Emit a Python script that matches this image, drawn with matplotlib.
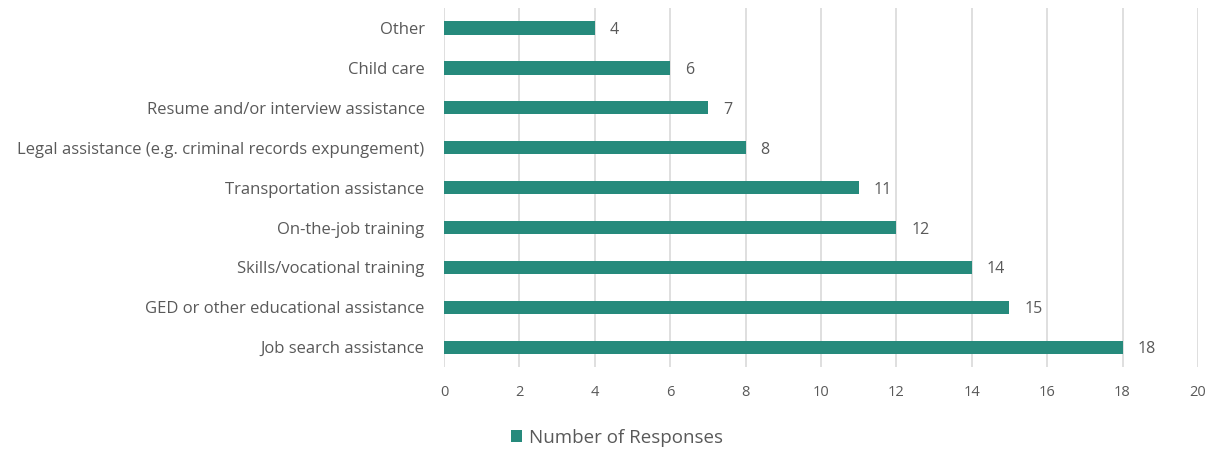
import matplotlib.pyplot as plt

categories = [
    "Job search assistance",
    "GED or other educational assistance",
    "Skills/vocational training",
    "On-the-job training",
    "Transportation assistance",
    "Legal assistance (e.g. criminal records expungement)",
    "Resume and/or interview assistance",
    "Child care",
    "Other",
]
responses = [18, 15, 14, 12, 11, 8, 7, 6, 4]
x_ticks = [0, 2, 4, 6, 8, 10, 12, 14, 16, 18, 20]

BAR_COLOR = "#268a7c"
TEXT_COLOR = "#595959"
GRID_COLOR = "#d9d9d9"

plt.rcParams["font.family"] = ["Open Sans", "DejaVu Sans"]

fig = plt.figure(figsize=(12.18, 4.5), dpi=100)
ax = fig.add_axes([0.3645, 0.184, 0.619, 0.798])

ypos = list(range(len(categories)))
bars = ax.barh(ypos, responses, height=0.33, color=BAR_COLOR,
               label="Number of Responses", zorder=3)

for y, v in zip(ypos, responses):
    ax.text(v + 0.4, y - 0.05, str(v), va="center", ha="left",
            fontsize=11.5, color=TEXT_COLOR)

ax.set_xlim(0, 20)
ax.set_ylim(-0.5, len(categories) - 0.5)
ax.set_xticks(x_ticks)
ax.set_xticklabels([str(t) for t in x_ticks], fontsize=10.5, color=TEXT_COLOR)
ax.set_yticks(ypos)
ax.set_yticklabels(categories, fontsize=12, color=TEXT_COLOR)
ax.tick_params(axis="both", length=0)
ax.tick_params(axis="x", pad=13)
ax.tick_params(axis="y", pad=14)

ax.xaxis.grid(True, color=GRID_COLOR, linewidth=1.2, zorder=0)
ax.set_axisbelow(True)
for s in ax.spines.values():
    s.set_visible(False)

fig.legend(handles=[bars], labels=["Number of Responses"], loc="center",
           bbox_to_anchor=(617 / 1218, 1 - 438 / 450), frameon=False,
           fontsize=13.5, handlelength=0.6, handleheight=0.6, handletextpad=0.4,
           labelcolor=TEXT_COLOR)

fig.savefig("out.png", dpi=100)
